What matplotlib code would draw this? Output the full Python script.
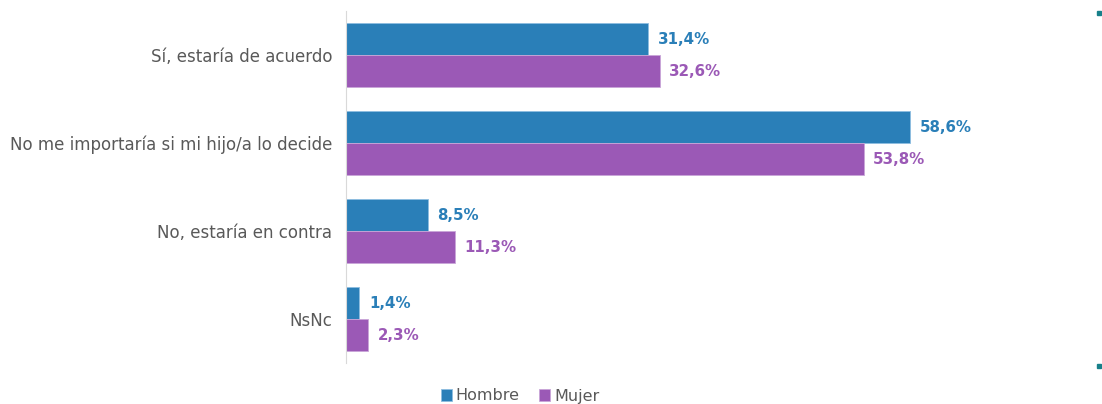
import matplotlib
matplotlib.use("Agg")
import matplotlib.pyplot as plt
import numpy as np
from matplotlib.patches import Rectangle

categories = ["Sí, estaría de acuerdo", "No me importaría si mi hijo/a lo decide",
              "No, estaría en contra", "NsNc"]
hombre = [31.4, 58.6, 8.5, 1.4]
mujer = [32.6, 53.8, 11.3, 2.3]
series_names = ["Hombre", "Mujer"]
colors = ["#2A7FB8", "#9B59B6"]

plt.rcParams['font.family'] = ['DejaVu Sans']

fig = plt.figure(figsize=(11.02, 4.04), dpi=100)
ax = fig.add_axes([346/1102, 41/404, 700/1102, 352/404])

y = np.arange(len(categories))
h = 32/88
ax.barh(y - h/2, hombre, height=h, color=colors[0], edgecolor="#8DBDE0", linewidth=0.6, label=series_names[0])
ax.barh(y + h/2, mujer, height=h, color=colors[1], edgecolor="#C9A6D8", linewidth=0.6, label=series_names[1])

for i in range(len(categories)):
    ax.text(hombre[i] + 1.0, y[i] - h/2, f"{hombre[i]:.1f}%".replace(".", ","),
            va="center", ha="left", color=colors[0], fontsize=10.8, fontweight="bold")
    ax.text(mujer[i] + 1.0, y[i] + h/2, f"{mujer[i]:.1f}%".replace(".", ","),
            va="center", ha="left", color=colors[1], fontsize=10.8, fontweight="bold")

ax.set_ylim(len(categories) - 0.5, -0.5)
ax.set_xlim(0, 700/9.62)
ax.set_yticks(y)
ax.set_yticklabels(categories, fontsize=12, color="#595959")
ax.tick_params(axis="y", length=0, pad=10)
ax.set_xticks([])
for s in ["top", "right", "bottom"]:
    ax.spines[s].set_visible(False)
ax.spines["left"].set_color("#D9D9D9")

leg = fig.legend(loc="center", bbox_to_anchor=(520/1102, 1 - 396/404), ncol=2, frameon=False,
                 fontsize=11.5, handlelength=0.7, handleheight=0.7, handletextpad=0.25,
                 columnspacing=1.2, borderpad=0)
for t in leg.get_texts():
    t.set_color("#595959")

# small decorative squares at right edge
for yy in [13, 366]:
    fig.patches.append(Rectangle(((1097)/1102, 1 - (yy + 2)/404), 4/1102, 4/404,
                                 transform=fig.transFigure, color="#17808A"))

fig.savefig("out.png", dpi=100)
